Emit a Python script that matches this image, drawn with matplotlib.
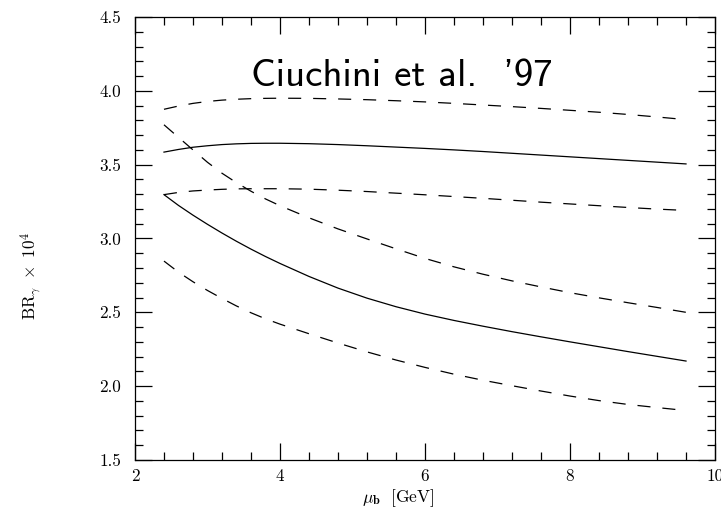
import numpy as np
import matplotlib
matplotlib.use("Agg")
import matplotlib.pyplot as plt
from matplotlib.ticker import MultipleLocator

plt.rcParams['mathtext.fontset'] = 'cm'
plt.rcParams['lines.scale_dashes'] = False

# scale mu_b in GeV
mu = [2.4, 2.6, 2.8, 3.0, 3.2, 3.4, 3.6, 3.8, 4.0, 4.4, 4.8, 5.2, 5.6, 6.0,
      6.4, 6.8, 7.2, 7.6, 8.0, 8.4, 8.8, 9.2, 9.6]

# solid curves
solid_upper = [3.585, 3.603, 3.618, 3.628, 3.636, 3.641, 3.644, 3.645, 3.645,
               3.642, 3.636, 3.628, 3.619, 3.610, 3.600, 3.589, 3.577, 3.565,
               3.553, 3.541, 3.529, 3.517, 3.505]
solid_lower = [3.297, 3.224, 3.158, 3.096, 3.037, 2.981, 2.928, 2.878, 2.831,
               2.743, 2.664, 2.596, 2.538, 2.488, 2.445, 2.406, 2.369, 2.334,
               2.300, 2.267, 2.234, 2.202, 2.170]

# dashed curves
dash_top = [3.875, 3.897, 3.915, 3.928, 3.937, 3.943, 3.947, 3.949, 3.950,
            3.949, 3.945, 3.940, 3.933, 3.925, 3.915, 3.904, 3.893, 3.881,
            3.868, 3.855, 3.840, 3.823, 3.805]
dash_mid = [3.297, 3.312, 3.322, 3.328, 3.333, 3.336, 3.337, 3.337, 3.337,
            3.334, 3.327, 3.318, 3.307, 3.296, 3.284, 3.272, 3.259, 3.246,
            3.234, 3.222, 3.210, 3.199, 3.190]
dash_steep = [3.770, 3.685, 3.600, 3.516, 3.442, 3.378, 3.320, 3.268, 3.222,
              3.140, 3.065, 2.997, 2.930, 2.865, 2.808, 2.758, 2.713, 2.672,
              2.633, 2.598, 2.565, 2.533, 2.500]
dash_low = [2.847, 2.772, 2.707, 2.648, 2.594, 2.543, 2.497, 2.456, 2.420,
            2.355, 2.292, 2.232, 2.177, 2.127, 2.081, 2.040, 2.003, 1.967,
            1.933, 1.902, 1.876, 1.855, 1.835]

fig = plt.figure(figsize=(7.21, 5.12), dpi=100)
ax = fig.add_axes([0.1872, 0.1016, 0.8045, 0.8652])

for y in [solid_upper, solid_lower]:
    ax.plot(mu, y, color='black', lw=0.9)
for y in [dash_top, dash_mid, dash_steep, dash_low]:
    ax.plot(mu, y, color='black', lw=0.9, dashes=[9.4, 8.6])

ax.set_xlim(2, 10)
ax.set_ylim(1.5, 4.5)
ax.xaxis.set_major_locator(MultipleLocator(2))
ax.xaxis.set_minor_locator(MultipleLocator(0.4))
ax.yaxis.set_major_locator(MultipleLocator(0.5))
ax.yaxis.set_minor_locator(MultipleLocator(0.1))
ax.xaxis.set_major_formatter(plt.FuncFormatter(lambda v, p: '%d' % v))
ax.yaxis.set_major_formatter(plt.FuncFormatter(lambda v, p: '%.1f' % v))

ax.tick_params(which='both', direction='in', top=True, right=True, width=0.9)
ax.tick_params(which='major', length=12.5)
ax.tick_params(which='minor', length=5.5)
ax.tick_params(axis='y', which='major', pad=10)
ax.tick_params(axis='x', which='major', pad=6)
for lab in ax.get_xticklabels() + ax.get_yticklabels():
    lab.set_family('cmr10')
    lab.set_fontsize(12.3)
for s in ax.spines.values():
    s.set_linewidth(0.9)

ax.text(5.68, 4.034, "Ciuchini et al.  '97", family='cmss10', fontsize=28,
        ha='center', va='baseline')

fig.text(398 / 721, 1 - 498 / 512, r'$\mu_{\mathbf{b}}\ \ \mathrm{[GeV]}$',
         fontsize=12.5, ha='center', va='center')
fig.text(31 / 721, 1 - 276 / 512, r'$\mathrm{BR}_\gamma\ \times\ 10^4$',
         rotation=90, fontsize=12.4, ha='center', va='center')

fig.savefig('out.png', dpi=100)
